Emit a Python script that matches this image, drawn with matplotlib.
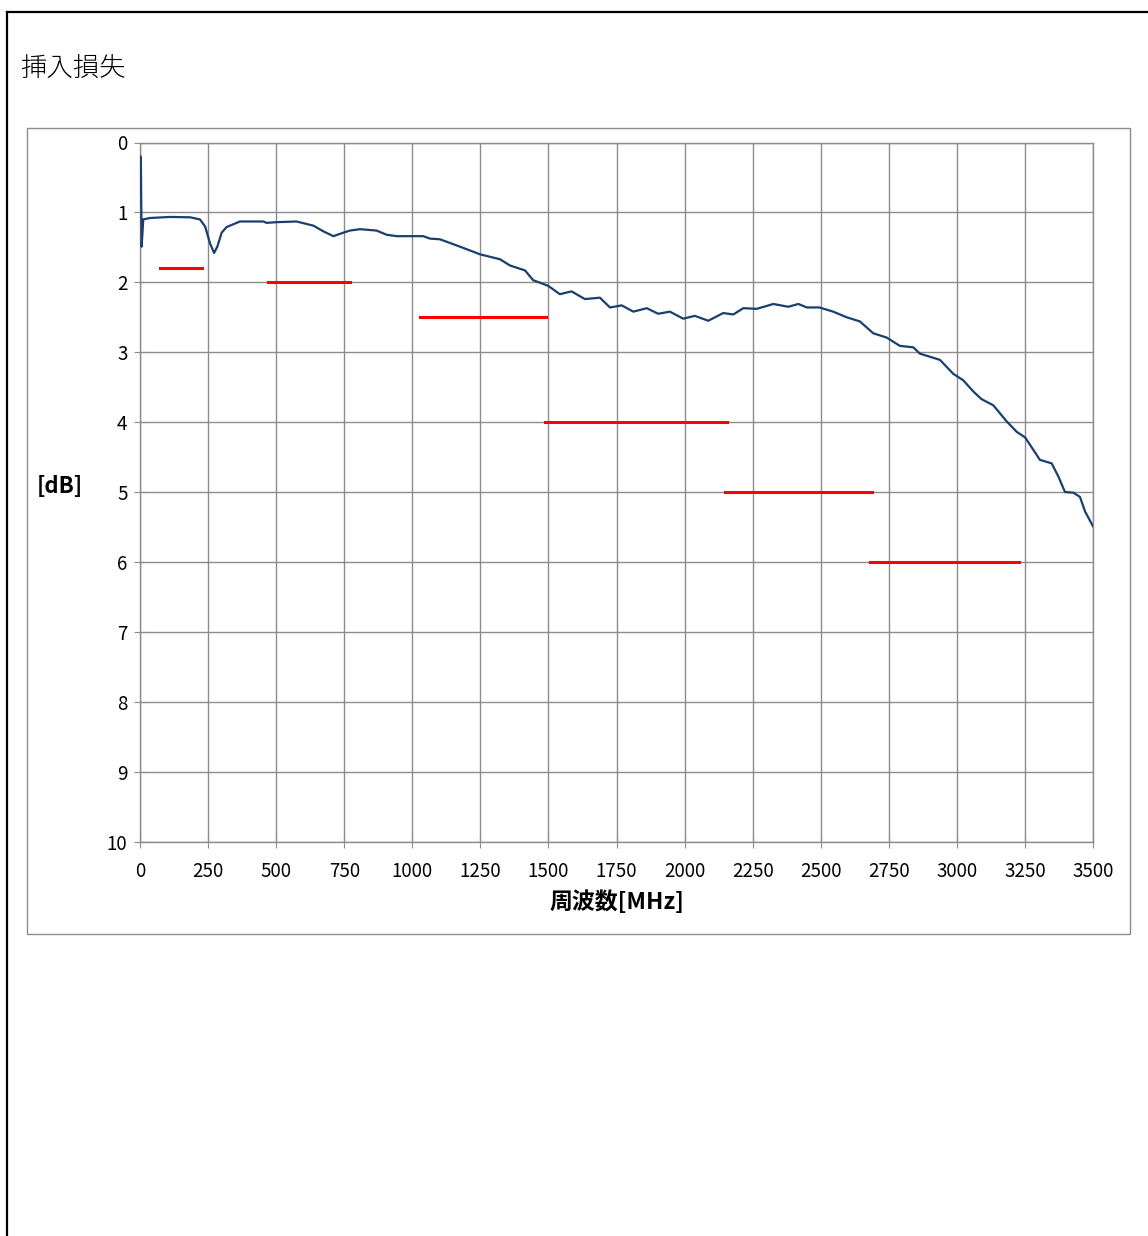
import matplotlib
matplotlib.use("Agg")
import matplotlib.pyplot as plt
from matplotlib.patches import Rectangle
from matplotlib.lines import Line2D

plt.rcParams['font.family'] = ['Noto Sans CJK JP', 'DejaVu Sans']

freq = [0, 3, 6, 12, 37, 110, 184, 220, 239, 257, 272, 284, 300, 318, 367,
        453, 465, 500, 575, 637, 673, 710, 747, 771, 808, 869, 906, 943,
        1040, 1065, 1102, 1175, 1249, 1322, 1359, 1414, 1444, 1499, 1542,
        1585, 1634, 1689, 1726, 1769, 1812, 1861, 1903, 1946, 1995, 2038,
        2087, 2142, 2179, 2216, 2265, 2326, 2381, 2418, 2449, 2495, 2546,
        2595, 2644, 2693, 2742, 2791, 2840, 2864, 2938, 2987, 3023, 3060,
        3090, 3134, 3183, 3220, 3251, 3305, 3348, 3373, 3397, 3428, 3452,
        3471, 3500]
loss = [0.20, 0.20, 1.49, 1.10, 1.08, 1.065, 1.07, 1.10, 1.20, 1.44, 1.58,
        1.49, 1.29, 1.21, 1.13, 1.13, 1.15, 1.14, 1.13, 1.19, 1.27, 1.34,
        1.29, 1.26, 1.24, 1.26, 1.32, 1.34, 1.34, 1.375, 1.385, 1.49, 1.60,
        1.67, 1.76, 1.83, 1.97, 2.05, 2.17, 2.13, 2.24, 2.22, 2.36, 2.33,
        2.42, 2.37, 2.45, 2.42, 2.52, 2.48, 2.55, 2.44, 2.46, 2.37, 2.38,
        2.31, 2.35, 2.31, 2.36, 2.36, 2.42, 2.50, 2.56, 2.73, 2.79, 2.91,
        2.93, 3.02, 3.11, 3.31, 3.40, 3.56, 3.67, 3.76, 3.99, 4.14, 4.22,
        4.54, 4.59, 4.78, 5.00, 5.01, 5.07, 5.28, 5.49]

# spec limits (red segments)
spec_start = [75, 470, 1030, 1487, 2150, 2680]
spec_end = [228, 770, 1492, 2155, 2688, 3228]
spec_loss = [1.8, 2.0, 2.5, 4.0, 5.0, 6.0]

W, H = 1148, 1236
fig = plt.figure(figsize=(W / 100, H / 100), dpi=100)

# outer black frame (cropped at right and bottom)
fig.add_artist(Line2D([7 / W, 7 / W], [0, 1 - 12 / H], color='black', lw=1.6,
                      transform=fig.transFigure))
fig.add_artist(Line2D([7 / W, 1], [1 - 12 / H, 1 - 12 / H], color='black', lw=1.6,
                      transform=fig.transFigure))
# chart area box
fig.add_artist(Rectangle((27 / W, 1 - 934 / H), (1130 - 27) / W, (934 - 128) / H,
                         fill=False, edgecolor='#8c8c8c', lw=1.0,
                         transform=fig.transFigure))

fig.text(20 / W, 1 - 68 / H, '挿入損失', fontsize=19, va='center', ha='left',
         fontweight='light')

ax = fig.add_axes([140 / W, 1 - 841.5 / H, (1093 - 140) / W, (841.5 - 142.5) / H])
ax.plot(freq, loss, color='#1a3f6e', lw=1.6, zorder=3)
for x0, x1, y in zip(spec_start, spec_end, spec_loss):
    ax.plot([x0, x1], [y, y], color='#ff0000', lw=2.2, zorder=4)

ax.set_xlim(0, 3500)
ax.set_ylim(10, 0)
ax.set_xticks(range(0, 3501, 250))
ax.set_yticks(range(0, 11))
ax.grid(True, color='#8c8c8c', lw=1.0)
ax.set_axisbelow(True)
for s in ax.spines.values():
    s.set_color('#8c8c8c')
    s.set_linewidth(1.0)
ax.tick_params(direction='inout', length=8, color='#8c8c8c', labelsize=13.5)
ax.tick_params(axis='x', pad=10)
ax.tick_params(axis='y', pad=5)
ax.set_xlabel('周波数[MHz]', fontsize=16.5, fontweight='bold', labelpad=6)
fig.text(60 / W, 1 - 486 / H, '[dB]', fontsize=16, fontweight='bold',
         ha='center', va='center')

fig.savefig('out.png', dpi=100)
